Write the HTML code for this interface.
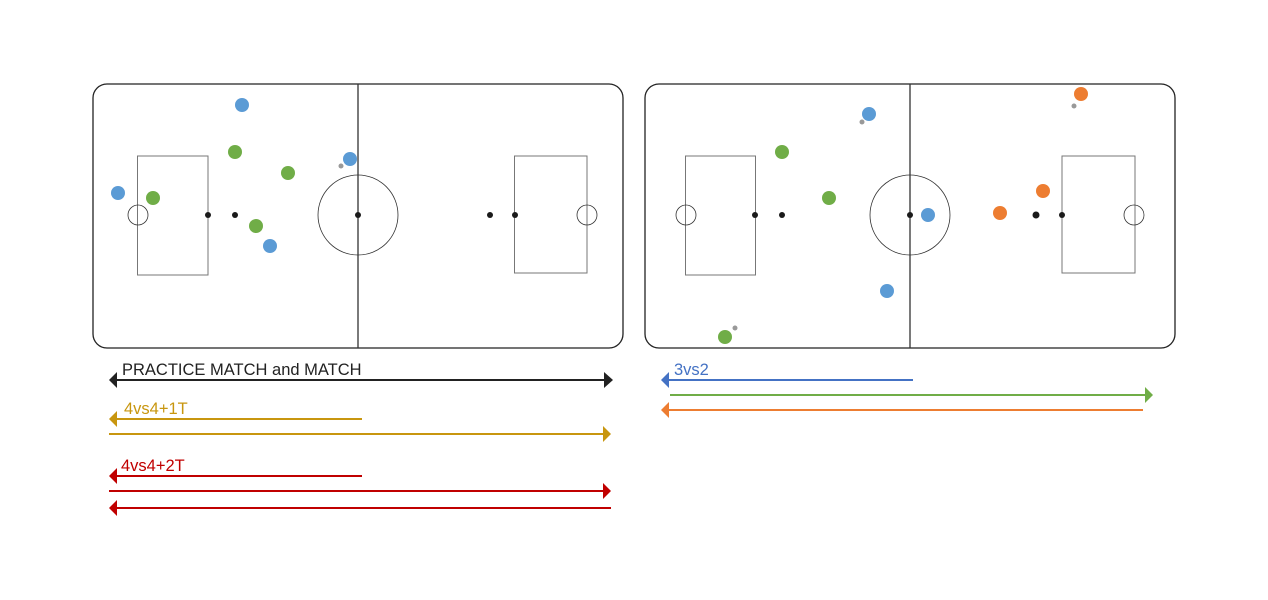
<!DOCTYPE html>
<html><head><meta charset="utf-8"><style>html,body{margin:0;padding:0;background:#fff}svg{display:block}</style></head>
<body>
<svg width="1268" height="600" viewBox="0 0 1268 600" xmlns="http://www.w3.org/2000/svg" font-family="Liberation Sans, sans-serif">
<g fill="none">
<rect x="93" y="84" width="530" height="264" rx="14" stroke="#222" stroke-width="1.3"/>
<line x1="358" y1="84" x2="358" y2="348" stroke="#333" stroke-width="1.3"/>
<rect x="137.5" y="156" width="70.5" height="119" stroke="#777" stroke-width="1"/>
<rect x="514.5" y="156" width="72.5" height="117" stroke="#777" stroke-width="1"/>
<circle cx="138" cy="215" r="10" stroke="#333" stroke-width="0.8"/>
<circle cx="587" cy="215" r="10" stroke="#333" stroke-width="0.8"/>
<circle cx="358" cy="215" r="40" stroke="#333" stroke-width="0.8"/>

<rect x="645" y="84" width="530" height="264" rx="14" stroke="#222" stroke-width="1.3"/>
<line x1="910" y1="84" x2="910" y2="348" stroke="#333" stroke-width="1.3"/>
<rect x="685.5" y="156" width="70" height="119" stroke="#777" stroke-width="1"/>
<rect x="1062" y="156" width="73" height="117" stroke="#777" stroke-width="1"/>
<circle cx="686" cy="215" r="10" stroke="#333" stroke-width="0.8"/>
<circle cx="1134" cy="215" r="10" stroke="#333" stroke-width="0.8"/>
<circle cx="910" cy="215" r="40" stroke="#333" stroke-width="0.8"/>
</g>
<g fill="#1a1a1a">
<circle cx="208" cy="215" r="3"/><circle cx="235" cy="215" r="3"/><circle cx="358" cy="215" r="3"/><circle cx="490" cy="215" r="3"/><circle cx="515" cy="215" r="3"/>
<circle cx="755" cy="215" r="3"/><circle cx="782" cy="215" r="3"/><circle cx="910" cy="215" r="3"/><circle cx="1036" cy="215" r="3.5"/><circle cx="1062" cy="215" r="3"/>
</g>
<g fill="#999"><circle cx="341" cy="166" r="2.5"/><circle cx="862" cy="122" r="2.5"/><circle cx="1074" cy="106" r="2.5"/><circle cx="735" cy="328" r="2.5"/></g>
<g fill="#5b9bd5"><circle cx="242" cy="105" r="7"/><circle cx="118" cy="193" r="7"/><circle cx="350" cy="159" r="7"/><circle cx="270" cy="246" r="7"/><circle cx="869" cy="114" r="7"/><circle cx="928" cy="215" r="7"/><circle cx="887" cy="291" r="7"/></g>
<g fill="#70ad47"><circle cx="235" cy="152" r="7"/><circle cx="288" cy="173" r="7"/><circle cx="153" cy="198" r="7"/><circle cx="256" cy="226" r="7"/><circle cx="782" cy="152" r="7"/><circle cx="829" cy="198" r="7"/><circle cx="725" cy="337" r="7"/></g>
<g fill="#ed7d31"><circle cx="1081" cy="94" r="7"/><circle cx="1043" cy="191" r="7"/><circle cx="1000" cy="213" r="7"/></g>

<g stroke-width="2">
<line x1="116" y1="380" x2="604" y2="380" stroke="#222"/>
<polygon points="109,380 117,372 117,388" fill="#222"/><polygon points="613,380 604,372 604,388" fill="#222"/>
<line x1="116" y1="419" x2="362" y2="419" stroke="#c8960f"/><polygon points="109,419 117,411 117,427" fill="#c8960f"/>
<line x1="109" y1="434" x2="603" y2="434" stroke="#c8960f"/><polygon points="611,434 603,426 603,442" fill="#c8960f"/>
<line x1="116" y1="476" x2="362" y2="476" stroke="#c00000"/><polygon points="109,476 117,468 117,484" fill="#c00000"/>
<line x1="109" y1="491" x2="603" y2="491" stroke="#c00000"/><polygon points="611,491 603,483 603,499" fill="#c00000"/>
<line x1="116" y1="508" x2="611" y2="508" stroke="#c00000"/><polygon points="109,508 117,500 117,516" fill="#c00000"/>
<line x1="668" y1="380" x2="913" y2="380" stroke="#4472c4"/><polygon points="661,380 669,372 669,388" fill="#4472c4"/>
<line x1="670" y1="395" x2="1145" y2="395" stroke="#70ad47"/><polygon points="1153,395 1145,387 1145,403" fill="#70ad47"/>
<line x1="668" y1="410" x2="1143" y2="410" stroke="#ed7d31"/><polygon points="661,410 669,402 669,418" fill="#ed7d31"/>
</g>
<g font-size="16.5">
<text x="122" y="375" fill="#222">PRACTICE MATCH and MATCH</text>
<text x="124" y="414" fill="#c8960f">4vs4+1T</text>
<text x="121" y="471" fill="#c00000">4vs4+2T</text>
<text x="674" y="375" fill="#4472c4">3vs2</text>
</g>
</svg>
</body></html>
